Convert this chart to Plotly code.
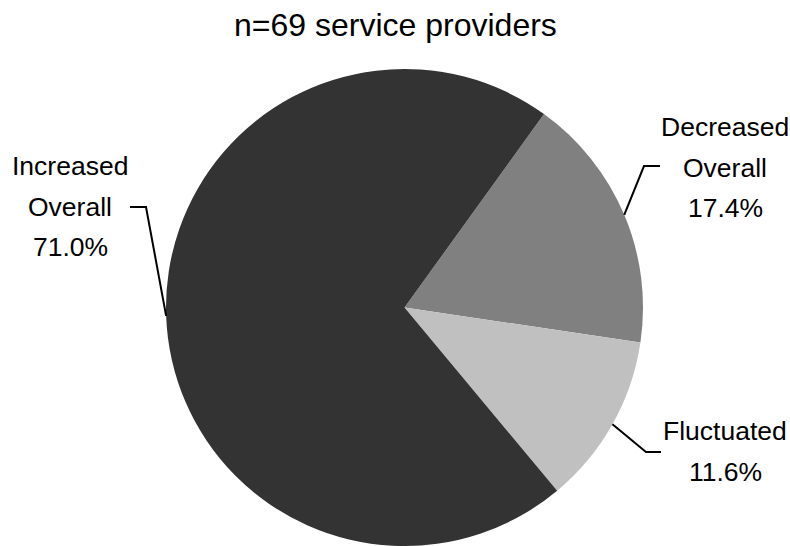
import math
import plotly.graph_objects as go

# ---- data ----
categories = ["Decreased Overall", "Fluctuated", "Increased Overall"]
label_lines = [["Decreased", "Overall"], ["Fluctuated"], ["Increased", "Overall"]]
percent_labels = ["17.4%", "11.6%", "71.0%"]
values = [17.4, 11.6, 71.0]
colors = ["#808080", "#c0c0c0", "#333333"]
title_text = "n=69 service providers"

W, H = 790, 546
ROT = 35.8
# pie geometry in pixels (domain)
x0, x1 = 166, 643
y_top, y_bot = 69, 546
cx, cy = (x0 + x1) / 2, (y_top + y_bot) / 2
R = min(x1 - x0, y_bot - y_top) / 2

fig = go.Figure(go.Pie(
    labels=categories, values=values, sort=False, direction="clockwise",
    rotation=ROT, marker=dict(colors=colors, line=dict(width=0)),
    textinfo="none", hoverinfo="label+percent", showlegend=False,
    domain=dict(x=[x0 / W, x1 / W], y=[1 - y_bot / H, 1 - y_top / H]),
))

def px(x, y):
    return x / W, 1 - y / H

# label layout: (line centers x, first line y, elbow, end) in px
layout_spec = [
    dict(tx=725, ty=126, elbow=(644, 166), end=(660, 166)),
    dict(tx=725, ty=430, elbow=(646, 452), end=(661, 452)),
    dict(tx=70, ty=165, elbow=(146, 207), end=(130, 207)),
]
LINE_GAP = 40.5
FS = 26.5
shapes = []
annotations = []
total = sum(values)
cum = 0
for i, v in enumerate(values):
    start = ROT + 360 * cum / total
    cum += v
    end_a = ROT + 360 * cum / total
    mid = math.radians((start + end_a) / 2)
    ax, ay = cx + R * math.sin(mid), cy - R * math.cos(mid)
    spec = layout_spec[i]
    ex, ey = spec["elbow"]
    tx, ty = spec["end"]
    p = [px(ax, ay), px(ex, ey), px(tx, ty)]
    path = "M {:.5f} {:.5f} L {:.5f} {:.5f} L {:.5f} {:.5f}".format(*p[0], *p[1], *p[2])
    shapes.append(dict(type="path", xref="paper", yref="paper", path=path,
                       line=dict(color="black", width=2)))
    lines = label_lines[i] + [percent_labels[i]]
    for k, t in enumerate(lines):
        yy = spec["ty"] + k * LINE_GAP + 1
        annotations.append(dict(text=t, x=spec["tx"] / W, y=1 - yy / H, xref="paper", yref="paper",
                                xanchor="center", yanchor="middle", showarrow=False,
                                font=dict(family="Liberation Sans, Arial", size=FS, color="black")))

annotations.append(dict(text=title_text, x=0.5, y=1 - 25 / H, xref="paper", yref="paper",
                        xanchor="center", yanchor="middle", showarrow=False,
                        font=dict(family="Liberation Sans, Arial", size=32, color="black")))

fig.update_layout(width=W, height=H, margin=dict(l=0, r=0, t=0, b=0),
                  paper_bgcolor="white", plot_bgcolor="white",
                  shapes=shapes, annotations=annotations)
fig.write_html("out.html")
